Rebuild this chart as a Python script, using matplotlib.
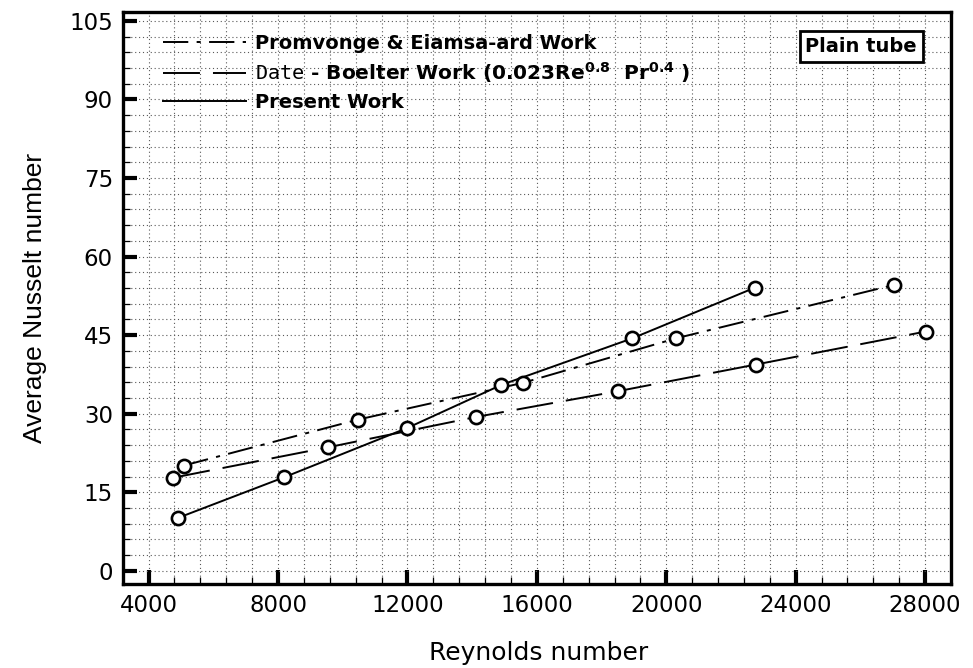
import matplotlib
matplotlib.use("Agg")
import matplotlib.pyplot as plt
from matplotlib.ticker import MultipleLocator

plt.rcParams['font.family'] = ['DejaVu Sans']
plt.rcParams['mathtext.default'] = 'regular'

# data
re_present = [4900, 8200, 12000, 14900, 18950, 22750]
nu_present = [10.1, 17.9, 27.3, 35.5, 44.4, 54.1]

re_promvonge = [5080, 10480, 15570, 20300, 27040]
nu_promvonge = [20.1, 28.9, 35.9, 44.4, 54.6]

re_dittus = [4770, 9550, 14130, 18500, 22770, 28020]
nu_dittus = [17.8, 23.6, 29.4, 34.3, 39.4, 45.7]

label_promvonge = "Promvonge & Eiamsa-ard Work"
label_dittus = r"$\mathtt{Date}$ - Boelter Work (0.023Re$^{0.8}$  Pr$^{0.4}$ )"
label_present = "Present Work"

x_ticks = [4000, 8000, 12000, 16000, 20000, 24000, 28000]
y_ticks = [0, 15, 30, 45, 60, 75, 90, 105]

fig = plt.figure(figsize=(9.73, 6.68), dpi=100)
ax = fig.add_axes([122.7 / 973, 1 - 584 / 668, (951 - 122.7) / 973, (584 - 12) / 668])

lw = 1.4
l1, = ax.plot(re_promvonge, nu_promvonge, color='black', lw=lw,
              ls=(0, (13, 4.3, 2.1, 4.3)), label=label_promvonge)
l2, = ax.plot(re_dittus, nu_dittus, color='black', lw=lw,
              ls=(0, (19, 6.7)), label=label_dittus)
l3, = ax.plot(re_present, nu_present, color='black', lw=lw, ls='-',
              label=label_present)

for xs, ys in [(re_promvonge, nu_promvonge), (re_dittus, nu_dittus),
               (re_present, nu_present)]:
    ax.plot(xs, ys, 'o', ms=9.5, mfc='white', mec='black', mew=1.9, zorder=3)

ax.set_xlim(3200, 28800)
ax.set_ylim(-2.5, 106.7)
ax.set_xticks(x_ticks)
ax.set_yticks(y_ticks)
ax.xaxis.set_minor_locator(MultipleLocator(800))
ax.yaxis.set_minor_locator(MultipleLocator(3))

ax.tick_params(which='major', direction='in', length=10, width=3,
               labelsize=16.5, pad=7, top=False, right=False)
ax.tick_params(which='minor', direction='in', length=5, width=0.9,
               top=False, right=False)
for s in ax.spines.values():
    s.set_linewidth(2.4)

ax.grid(which='both', ls=(0, (1, 2.5)), lw=0.8, color='0.35')
ax.set_axisbelow(True)

ax.set_xlabel("Reynolds number", fontsize=18)
ax.xaxis.set_label_coords(0.5016, -0.1)
ax.set_ylabel("Average Nusselt number", fontsize=19,
              family=['Liberation Sans Narrow', 'Liberation Sans'])
ax.yaxis.set_label_coords(-0.0914, 0.5)

leg = ax.legend(handles=[l1, l2, l3], loc='upper left',
                bbox_to_anchor=(0.0485, 0.962), frameon=False,
                borderaxespad=0, borderpad=0, handlelength=4.3,
                handletextpad=0.42, labelspacing=0.4,
                prop={'weight': 'bold', 'size': 14})
# the mono "Date" in the reference is a bit larger than the rest of the row
leg.get_texts()[1].set_fontsize(14.5)

ax.text(0.959, 0.94, "Plain tube", transform=ax.transAxes, ha='right',
        va='center', fontsize=14, weight='bold',
        bbox=dict(boxstyle='square,pad=0.3', fc='white', ec='black', lw=2))

fig.savefig("out.png", dpi=100)
